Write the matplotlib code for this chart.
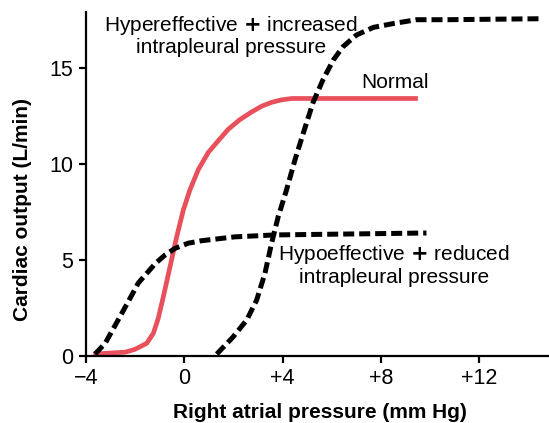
import matplotlib
matplotlib.use('Agg')
import matplotlib.pyplot as plt

plt.rcParams['font.family'] = ['Liberation Sans', 'DejaVu Sans']

red = '#E8505B'

# (mm Hg, L/min)
normal_x = [-3.7, -2.4, -2.0, -1.53, -1.26, -1.06, -0.85, -0.58, -0.31, -0.04, 0.23, 0.57,
            0.98, 1.38, 1.79, 2.26, 2.74, 3.15, 3.55, 3.96, 4.37, 9.5]
normal_y = [0.1, 0.2, 0.35, 0.66, 1.18, 1.96, 3.1, 4.65, 6.2, 7.6, 8.65, 9.7,
            10.6, 11.2, 11.8, 12.3, 12.7, 13.0, 13.2, 13.33, 13.4, 13.4]

hypo_x = [-3.63, -3.22, -2.68, -2.28, -1.87, -1.46, -1.19, -0.78, -0.38, 0.16, 0.71,
          1.38, 2.06, 3.69, 9.85]
hypo_y = [0.1, 0.66, 1.9, 2.83, 3.8, 4.4, 4.8, 5.26, 5.6, 5.87, 6.0,
          6.1, 6.2, 6.3, 6.4]

hyper_x = [1.32, 1.99, 2.54, 2.94, 3.28, 3.55, 3.82, 4.16, 4.5, 4.84, 5.24, 5.65,
           6.06, 6.46, 7.0, 7.69, 8.5, 9.45, 10.7, 14.45]
hyper_y = [0.1, 1.0, 1.875, 2.9, 4.3, 5.87, 7.25, 8.65, 10.2, 11.6, 13.2, 14.4,
           15.4, 16.1, 16.7, 17.1, 17.3, 17.5, 17.5, 17.55]

xticks = [-4, 0, 4, 8, 12]
xticklabels = ['\u22124', '0', '+4', '+8', '+12']
yticks = [0, 5, 10, 15]

fig = plt.figure(figsize=(5.49, 4.23), dpi=100)
ax = fig.add_axes([0.1566, 0.1584, 0.8414, 0.8132])

ax.plot(normal_x, normal_y, color=red, lw=3.4, solid_capstyle='butt', solid_joinstyle='round')
ax.plot(hypo_x, hypo_y, color='black', lw=3.6, dashes=(2.2, 1.0))
ax.plot(hyper_x, hyper_y, color='black', lw=3.6, dashes=(2.2, 1.0))

ax.text(1.9, 16.67, 'Hypereffective $\\mathbf{+}$ increased\nintrapleural pressure',
        ha='center', va='center', fontsize=15, linespacing=1.1)
ax.text(8.57, 14.25, 'Normal', ha='center', va='center', fontsize=15)
ax.text(8.52, 4.74, 'Hypoeffective $\\mathbf{+}$ reduced\nintrapleural pressure',
        ha='center', va='center', fontsize=15, linespacing=1.1)

ax.set_xlim(-4, 14.79)
ax.set_ylim(0, 17.9)
ax.set_xticks(xticks)
ax.set_xticklabels(xticklabels)
ax.set_yticks(yticks)

for s in ['top', 'right']:
    ax.spines[s].set_visible(False)
for s in ['left', 'bottom']:
    ax.spines[s].set_linewidth(1.6)
ax.tick_params(direction='out', length=5, width=1.6, labelsize=15.5, pad=4)

ax.set_xlabel('Right atrial pressure (mm Hg)', fontsize=15, fontweight='bold')
ax.set_ylabel('Cardiac output (L/min)', fontsize=15, fontweight='bold')
ax.xaxis.set_label_coords(0.506, -0.137)
ax.yaxis.set_label_coords(-0.117, 0.426)

plt.savefig('out.png', dpi=100)
